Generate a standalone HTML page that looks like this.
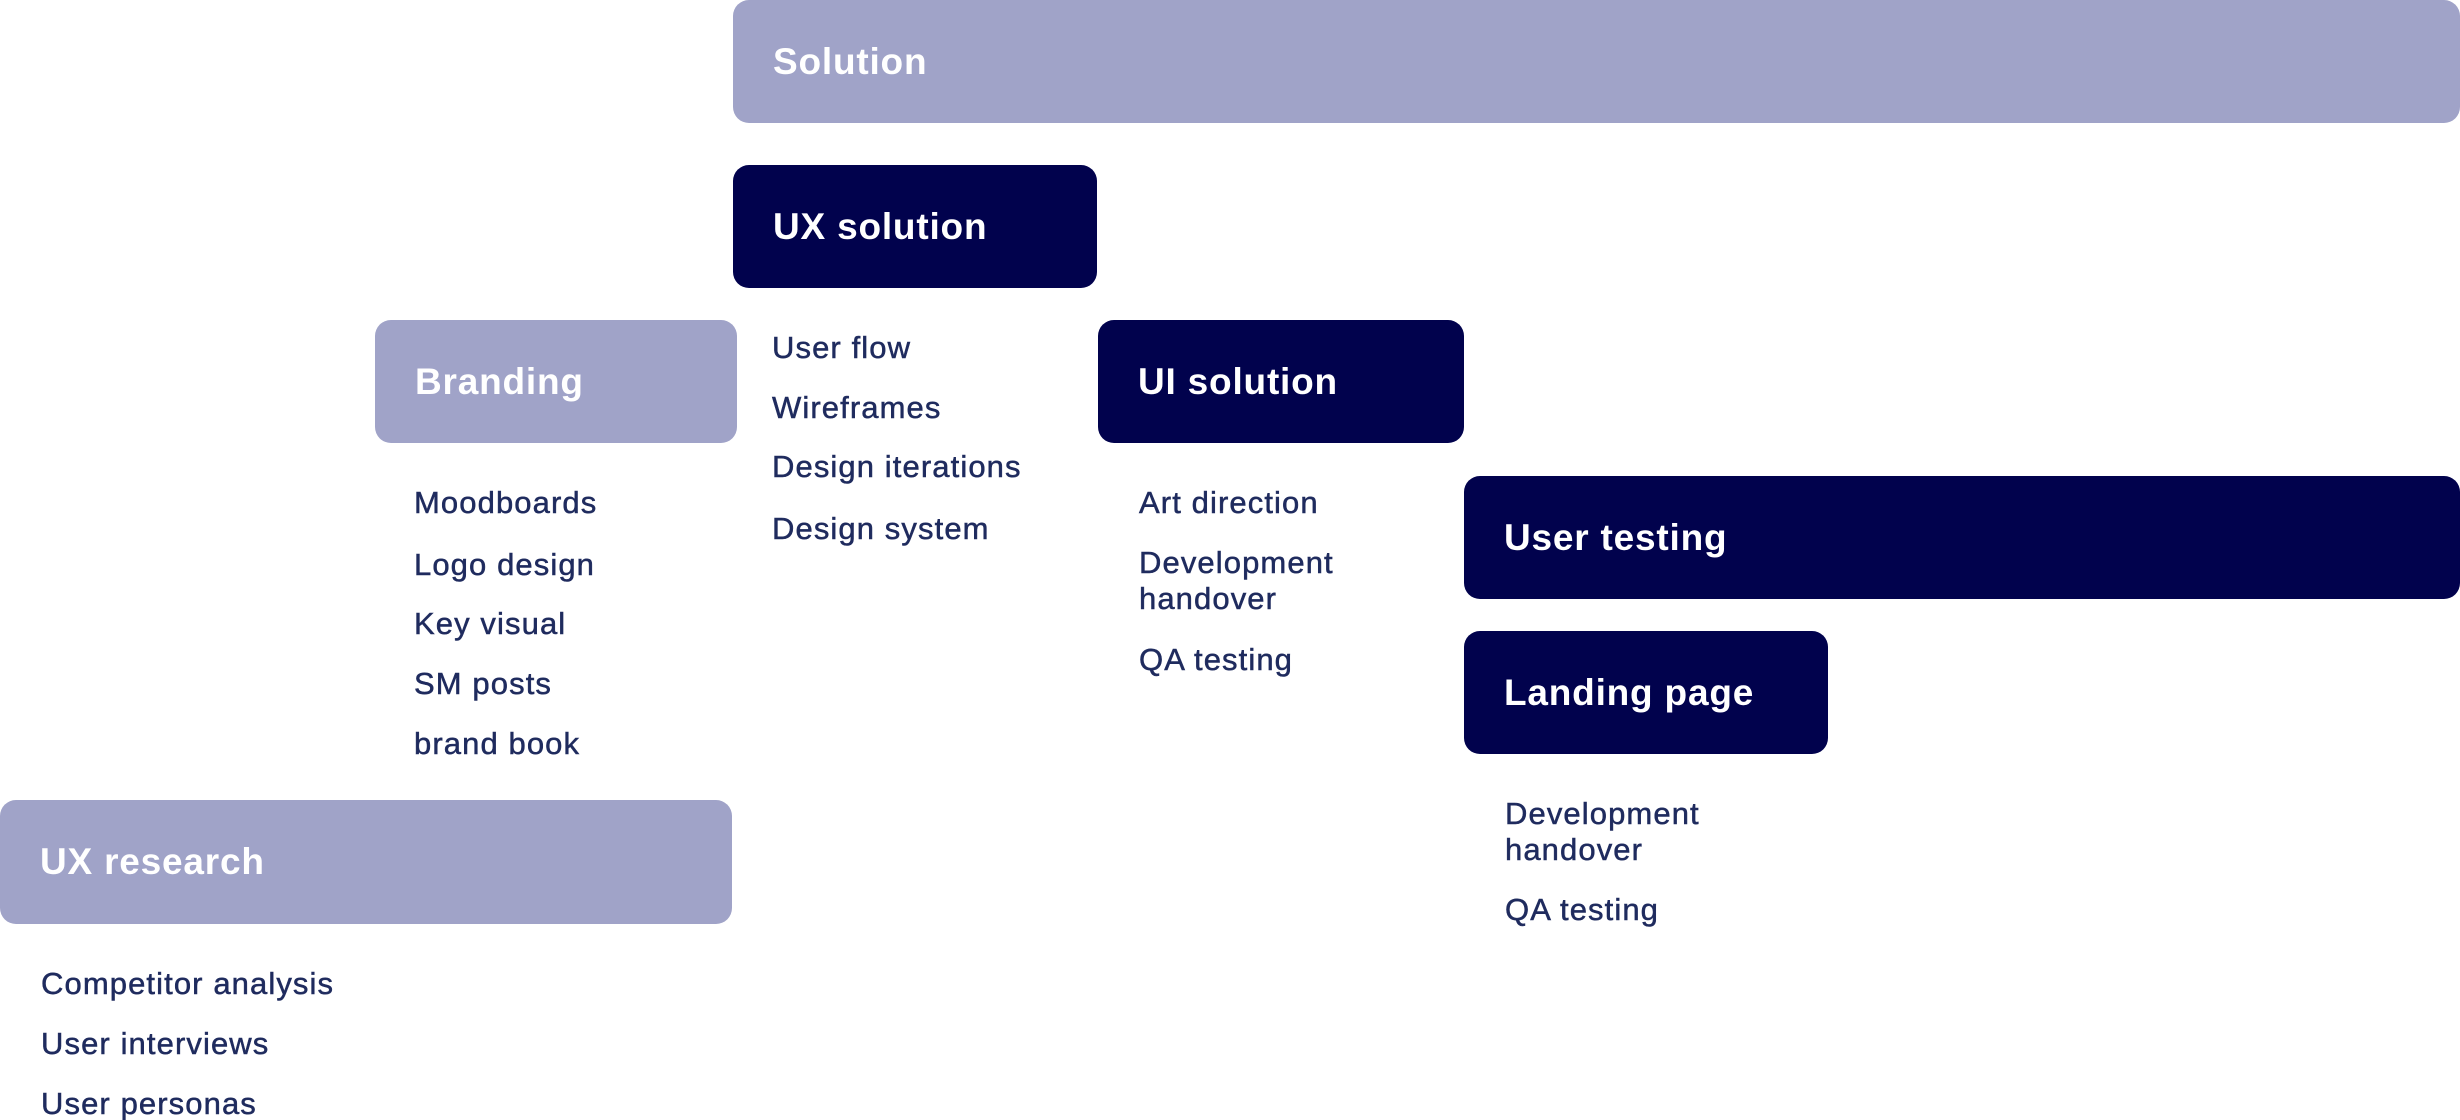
<!DOCTYPE html>
<html><head><meta charset="utf-8"><style>
html,body{margin:0;padding:0;background:#fff;width:2460px;height:1120px;overflow:hidden;position:relative;font-family:"Liberation Sans",sans-serif}
.b{position:absolute;border-radius:16px;color:#fff;font-weight:bold;font-size:37px;letter-spacing:0.8px;box-sizing:border-box;padding-left:40px;display:flex;align-items:center}
.l{background:#a0a3c8}.d{background:#01024d}
.t{position:absolute;color:#1f2b5e;font-size:31px;line-height:36px;letter-spacing:1.1px;white-space:nowrap;-webkit-text-stroke:0.5px #1f2b5e;margin-top:3px}
</style></head><body>
<div class="b l" style="left:733px;top:0;width:1727px;height:123px">Solution</div>
<div class="b d" style="left:733px;top:165px;width:364px;height:123px">UX solution</div>
<div class="b l" style="left:375px;top:320px;width:362px;height:123px">Branding</div>
<div class="b d" style="left:1098px;top:320px;width:366px;height:123px">UI solution</div>
<div class="b d" style="left:1464px;top:476px;width:996px;height:123px">User testing</div>
<div class="b d" style="left:1464px;top:631px;width:364px;height:123px">Landing page</div>
<div class="b l" style="left:0;top:800px;width:732px;height:124px">UX research</div>

<div class="t" style="left:772px;top:327px">User flow</div>
<div class="t" style="left:772px;top:387px">Wireframes</div>
<div class="t" style="left:772px;top:446px">Design iterations</div>
<div class="t" style="left:772px;top:508px">Design system</div>

<div class="t" style="left:414px;top:482px">Moodboards</div>
<div class="t" style="left:414px;top:544px">Logo design</div>
<div class="t" style="left:414px;top:603px">Key visual</div>
<div class="t" style="left:414px;top:663px">SM posts</div>
<div class="t" style="left:414px;top:723px">brand book</div>

<div class="t" style="left:1139px;top:482px">Art direction</div>
<div class="t" style="left:1139px;top:542px">Development<br>handover</div>
<div class="t" style="left:1139px;top:639px">QA testing</div>

<div class="t" style="left:1505px;top:793px">Development<br>handover</div>
<div class="t" style="left:1505px;top:889px">QA testing</div>

<div class="t" style="left:41px;top:963px">Competitor analysis</div>
<div class="t" style="left:41px;top:1023px">User interviews</div>
<div class="t" style="left:41px;top:1083px">User personas</div>
</body></html>
